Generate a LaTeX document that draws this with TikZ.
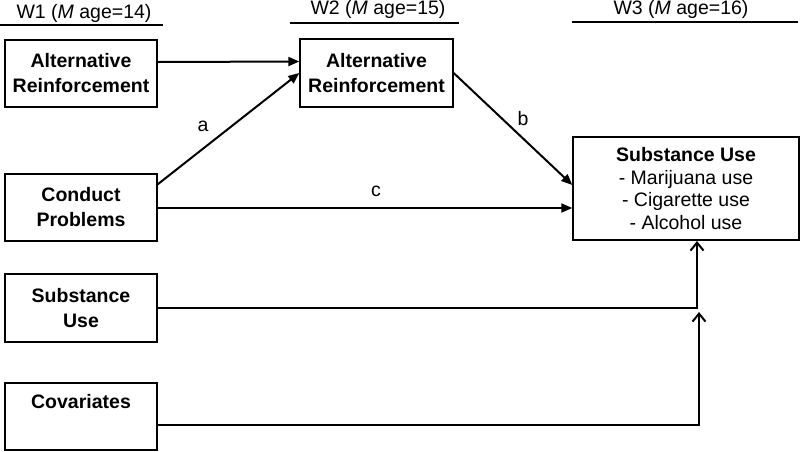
\documentclass[tikz,border=0pt]{standalone}
\usepackage{fontspec}
\setmainfont{Liberation Sans}
\usetikzlibrary{arrows.meta}
\tikzset{
  box/.style={draw, line width=1.4pt, inner sep=0pt, align=center,
    font=\fontsize{19.5}{25}\selectfont\bfseries},
  hdr/.style={inner sep=0pt, font=\fontsize{19.5}{22}\selectfont},
  lbl/.style={inner sep=0pt, font=\fontsize{19.5}{22}\selectfont},
  conn/.style={line width=2pt, -{Triangle[length=11pt,width=9pt]}},
  open/.style={line width=2pt, -{Straight Barb[length=8pt,width=13pt,line width=2pt]}},
  uline/.style={line width=1.3pt}
}
\begin{document}
\begin{tikzpicture}[x=1pt,y=-1pt]
\useasboundingbox (0,0) rectangle (800,451);
% headers
\node[hdr] (h1) at (84,13) {W1 (\textit{M} age=14)};
\node[hdr] (h2) at (378,9) {W2 (\textit{M} age=15)};
\node[hdr] (h3) at (681,9) {W3 (\textit{M} age=16)};
\draw[uline] (0,25) -- (163,25);
\draw[uline] (290,23) -- (459,23);
\draw[uline] (572,22) -- (798,22);
% boxes
\node[box, minimum width=152pt, minimum height=67pt] (ar1) at (81,73.5) {Alternative\\Reinforcement};
\node[box, minimum width=153pt, minimum height=68pt] (ar2) at (376.5,73) {Alternative\\Reinforcement};
\node[box, minimum width=152pt, minimum height=67pt] (cp) at (81,207.5) {Conduct\\Problems};
\node[box, minimum width=152pt, minimum height=68pt] (su1) at (81,308) {Substance\\Use};
\node[box, minimum width=152pt, minimum height=67pt] (cov) at (81,416.5) {Covariates\\[-2pt]\strut};
\node[box, minimum width=226pt, minimum height=103pt, font=\fontsize{19.5}{22.5}\selectfont] (su3) at (686,188.5)
  {\textbf{Substance Use}\\- Marijuana use\\- Cigarette use\\- Alcohol use};
% connectors
\draw[conn] ([yshift=11.5pt]ar1.east) -- ([yshift=11.5pt]ar2.west);
\draw[conn] ([yshift=-11pt]cp.north east) -- (ar2.west);
\draw[conn] (ar2.east) -- ([yshift=3.5pt]su3.west);
\draw[conn] ([yshift=-0.5pt]cp.east) -- ([yshift=-0.5pt]cp.east -| su3.west);
\coordinate (t1) at (697,241);
\coordinate (t2) at (699,312);
\draw[open] (su1.east) -| (t1);
\draw[open] ([yshift=-8.5pt]cov.east) -| (t2);
% labels
\node[lbl] (la) at (203,126) {a};
\node[lbl] (lb) at (523,119) {b};
\node[lbl] (lc) at (376,191) {c};
\end{tikzpicture}
\end{document}
